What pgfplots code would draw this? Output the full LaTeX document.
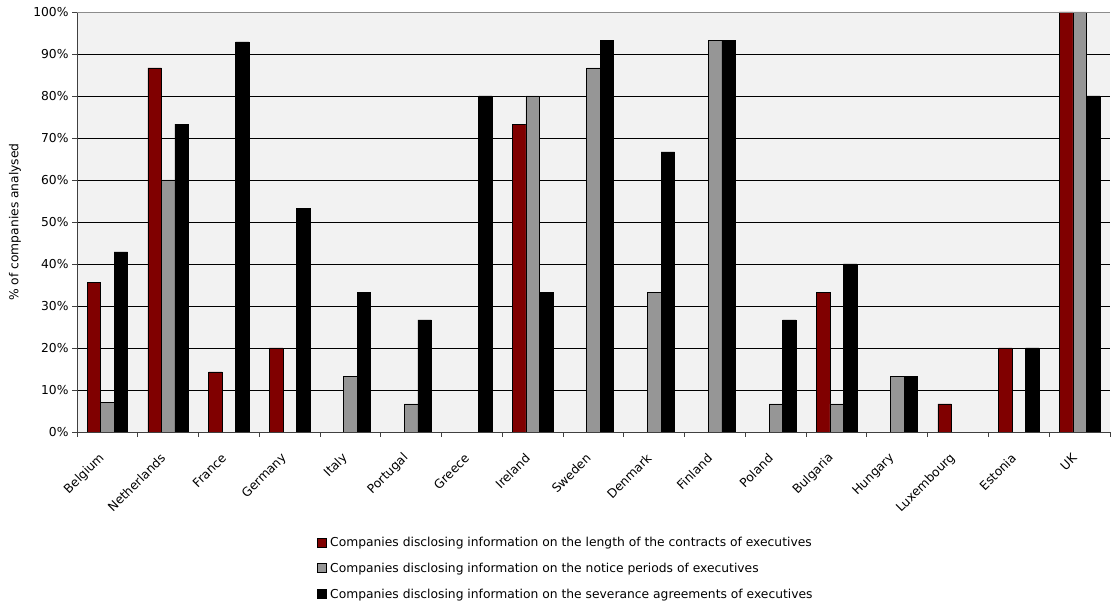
\documentclass[border=0pt]{standalone}
\usepackage{fontspec}
\setmainfont{DejaVu Sans}
\usepackage{pgfplots}
\pgfplotsset{compat=1.18}
\definecolor{cred}{HTML}{800000}
\definecolor{cgray}{HTML}{969696}
\definecolor{cbg}{HTML}{F2F2F2}
\begin{document}
\begin{tikzpicture}
\begin{axis}[
  at={(77pt,173pt)}, anchor=south west,
  scale only axis, width=1033pt, height=420pt,
  xmin=-0.5, xmax=16.5, ymin=0, ymax=100,
  ybar=0pt, bar width=13.5pt,
  axis background/.style={fill=cbg},
  axis x line*=bottom, axis y line*=left,
  axis line style={color=black!75, line width=0.9pt},
  ymajorgrids, grid style={black, line width=0.5pt},
  xtick={0,...,16},
  xticklabels={Belgium,Netherlands,France,Germany,Italy,Portugal,Greece,Ireland,Sweden,Denmark,Finland,Poland,Bulgaria,Hungary,Luxembourg,Estonia,UK},
  major x tick style={draw=none},
  minor xtick={-0.5,0.5,...,16.5},
  minor x tick style={color=black!75, line width=0.9pt},
  minor tick length=5pt,
  major tick length=5pt,
  y tick style={color=black!75, line width=0.9pt},
  tick align=outside,
  ytick={0,10,...,100},
  yticklabel={\pgfmathprintnumber{\tick}\%},
  /pgf/number format/assume math mode=true,
  tick label style={font=\fontsize{12.3}{14}\selectfont},
  xticklabel style={yshift=-19pt, xshift=-5pt, rotate=45, anchor=east, inner sep=0pt},
  ylabel={\% of companies analysed},
  ylabel style={font=\fontsize{12.3}{14}\selectfont, at={(axis description cs:-0.060,0.5)}, anchor=center},
  legend style={at={(axis description cs:0.473,-0.240)}, anchor=north, draw=none, fill=none,
    font=\fontsize{12.3}{14}\selectfont, row sep=11pt, cells={anchor=west}},
  legend cell align=left,
  legend image code/.code={\draw[#1, draw=black, line width=0.6pt] (0pt,-4.5pt) rectangle (9.5pt,4.5pt); \path (11pt,0pt);},
]
\addplot[fill=cred, draw=black, line width=0.5pt] coordinates {
 (0,35.7) (1,86.7) (2,14.3) (3,20) (7,73.3) (12,33.3) (14,6.7) (15,20) (16,100)};
\addplot[fill=cgray, draw=black, line width=0.5pt] coordinates {
 (0,7.1) (1,60) (4,13.3) (5,6.7) (7,80) (8,86.7) (9,33.3) (10,93.3) (11,6.7) (12,6.7) (13,13.3) (16,100)};
\addplot[fill=black, draw=black, line width=0.5pt] coordinates {
 (0,42.9) (1,73.3) (2,92.9) (3,53.3) (4,33.3) (5,26.7) (6,80) (7,33.3) (8,93.3) (9,66.7) (10,93.3) (11,26.7) (12,40) (13,13.3) (15,20) (16,80)};
\legend{Companies disclosing information on the length of the contracts of executives,
Companies disclosing information on the notice periods of executives,
Companies disclosing information on the severance agreements of executives}
\draw[black!45, line width=0.9pt] (axis cs:-0.5,100) -- (axis cs:16.5,100);
\end{axis}
\pgfresetboundingbox
\path (0,0) rectangle (1117pt,605pt);
\end{tikzpicture}
\end{document}
